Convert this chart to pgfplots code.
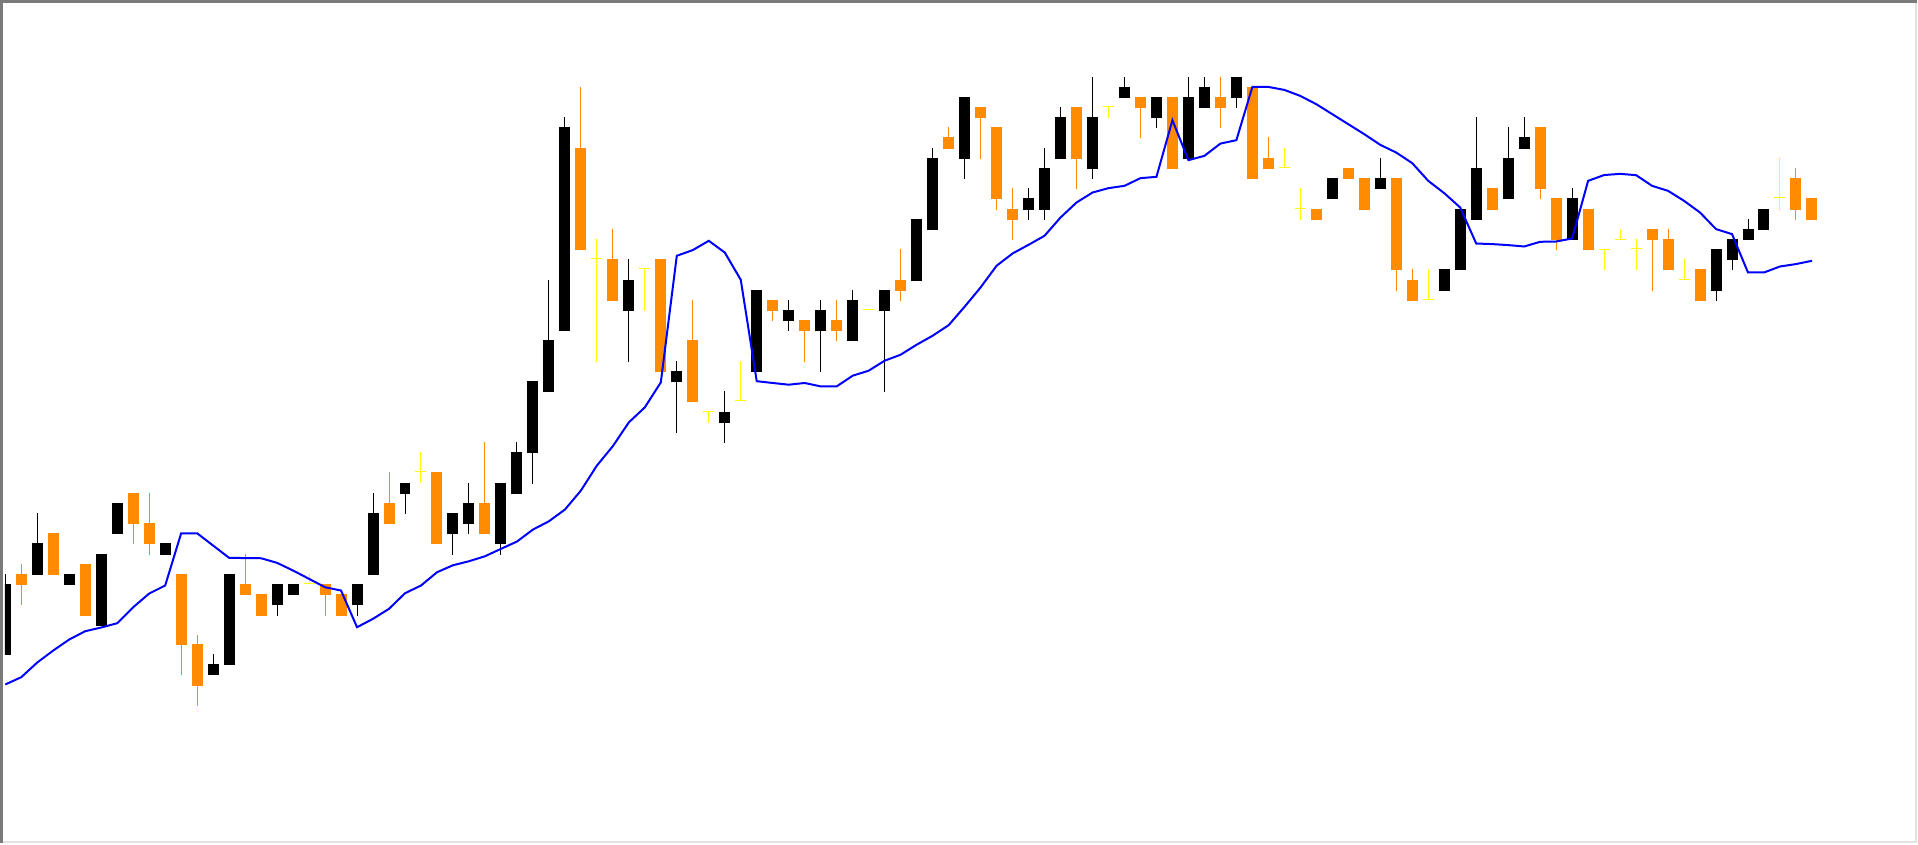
\documentclass[border=0pt]{standalone}
\usepackage{pgfplots}
\usepackage{pgfplotstable}
\pgfplotsset{compat=1.18}
\definecolor{cbull}{HTML}{000000}
\definecolor{cbear}{HTML}{FF8C00}
\definecolor{cdoji}{HTML}{FFFF00}
\definecolor{cma}{HTML}{0000FF}
\definecolor{cframe}{HTML}{7A7A7A}
\definecolor{cframelt}{HTML}{E2E2E2}

% candles: x = bar index, o h l c
\pgfplotstableread{
x o h l c
0 188 270 188 260
2 269 331 269 301
4 259 270 259 270
6 218 290 218 290
7 310 341 310 341
10 289 301 289 301
13 168 189 168 179
14 178 270 178 270
17 239 260 228 260
18 249 260 249 260
22 239 260 228 260
23 269 351 269 331
25 350 361 330 361
28 310 331 289 331
29 320 361 310 341
31 300 361 289 361
32 350 402 350 392
33 391 463 360 463
34 452 564 452 504
35 513 727 513 717
39 533 585 482 564
42 462 483 411 473
45 421 453 401 432
47 472 554 472 554
49 523 544 513 534
51 513 544 472 534
53 503 554 503 544
55 533 554 452 554
57 563 625 563 625
58 614 696 614 686
60 685 747 665 747
64 634 656 624 646
65 634 696 624 676
66 685 737 685 727
68 675 767 665 727
70 746 767 746 757
72 726 747 716 747
74 685 767 685 747
75 736 767 736 757
77 746 767 736 767
83 645 666 645 666
86 655 686 655 666
90 553 575 553 575
91 574 635 574 635
92 624 727 624 676
94 645 717 645 686
95 695 727 695 707
98 604 656 604 646
107 553 595 543 595
108 584 605 574 605
109 604 625 604 615
110 614 635 614 635
}\bull

\pgfplotstableread{
x o h l c
1 270 280 239 259
3 311 311 269 269
5 280 280 228 228
8 351 351 300 320
9 321 351 289 300
11 270 270 168 198
12 199 209 137 157
15 260 290 249 249
16 250 250 228 228
20 260 260 228 249
21 250 250 228 228
24 341 372 320 320
27 372 372 300 300
30 341 402 310 310
36 696 757 594 594
38 585 615 543 543
41 585 585 472 472
43 504 544 442 442
48 544 544 523 533
50 524 524 482 513
52 524 544 503 513
56 564 595 543 553
59 707 717 695 695
61 737 737 685 726
62 717 717 634 645
63 635 656 604 624
67 737 737 655 685
71 747 747 706 736
73 747 747 675 675
76 747 767 716 736
78 757 757 665 665
79 686 707 675 675
82 635 635 624 624
84 676 676 665 665
85 666 666 634 634
87 666 666 553 574
88 564 575 543 543
93 656 656 634 634
96 717 717 645 655
97 646 646 594 604
99 635 635 594 594
103 615 615 553 604
104 605 615 574 574
106 575 575 543 543
112 666 676 624 634
113 646 646 624 624
}\bear

\pgfplotstableread{
x o h l c
19 260 270 260 260
26 372 392 361 372
37 585 605 482 585
40 575 575 533 575
44 432 432 421 432
46 443 483 443 443
54 534 534 534 534
69 737 737 726 737
80 676 696 676 676
81 635 656 624 635
89 544 575 544 544
100 594 594 574 594
101 604 615 604 604
102 595 605 574 595
105 564 585 564 564
111 646 686 634 646
}\doji

\pgfplotstableread{
x ma
0 159
1 166.3
2 181
3 193
4 204
5 212.3
6 216
7 220.3
8 236.3
9 250
10 258
11 310.3
12 310.3
13 298
14 285.7
15 285.5
16 285.3
17 280.7
18 273
19 264.7
20 256.3
21 253
22 216.3
23 224.7
24 234.7
25 250.3
26 258
27 271.3
28 278.3
29 282.3
30 287.3
31 294.7
32 302
33 314
34 322.3
35 334
36 353
37 378
38 397.5
39 421.3
40 436.3
41 461.3
42 588
43 593.7
44 603
45 591.3
46 564
47 462.5
48 460.7
49 459
50 460.7
51 457.3
52 457.3
53 468
54 473
55 483
56 489
57 499
58 508
59 518.5
60 537
61 556.3
62 578
63 590.3
64 599
65 608
66 626.3
67 641.3
68 651.3
69 655.7
70 658
71 665.7
72 667
73 723.7
74 683.7
75 688
76 700.3
77 703.7
78 757
79 757
80 754
81 748
82 739.7
83 729.7
84 719.7
85 709.7
86 699
87 691.3
88 680.7
89 663
90 650.7
91 636.3
92 600.3
93 599.7
94 598.7
95 597.3
96 602
97 602.3
98 605.3
99 663
100 668.8
101 670
102 668.7
103 658
104 653
105 643
106 631.3
107 614.7
108 609.7
109 571.3
110 571.3
111 577.3
112 579.7
113 583
}\ma

\begin{document}
\begin{tikzpicture}
\begin{axis}[
  scale only axis,
  width=191.3mm, height=84.3mm,
  xmin=-0.019, xmax=119.54,
  ymin=0, ymax=843,
  ticks=none,
  axis line style={draw=none},
  clip=true,
]
% wicks
\addplot[draw=none, mark=none, forget plot,
  error bars/.cd, y dir=both, y explicit, error mark=none,
  error bar style={draw=cbull, line width=0.1mm}]
  table[x=x, y expr=(\thisrow{h}+\thisrow{l})/2, y error expr=(\thisrow{h}-\thisrow{l})/2] {\bull};
\addplot[draw=none, mark=none, forget plot,
  error bars/.cd, y dir=both, y explicit, error mark=none,
  error bar style={draw=cbear, line width=0.1mm}]
  table[x=x, y expr=(\thisrow{h}+\thisrow{l})/2, y error expr=(\thisrow{h}-\thisrow{l})/2] {\bear};
\addplot[draw=none, mark=none, forget plot,
  error bars/.cd, y dir=both, y explicit, error mark=none,
  error bar style={draw=cdoji, line width=0.1mm}]
  table[x=x, y expr=(\thisrow{h}+\thisrow{l})/2, y error expr=(\thisrow{h}-\thisrow{l})/2] {\doji};
% bodies
\addplot[draw=none, mark=none, forget plot,
  error bars/.cd, y dir=both, y explicit, error mark=none,
  error bar style={draw=cbull, line width=1.1mm}]
  table[x=x, y expr=(\thisrow{o}+\thisrow{c})/2, y error expr=abs(\thisrow{c}-\thisrow{o})/2] {\bull};
\addplot[draw=none, mark=none, forget plot,
  error bars/.cd, y dir=both, y explicit, error mark=none,
  error bar style={draw=cbear, line width=1.1mm}]
  table[x=x, y expr=(\thisrow{o}+\thisrow{c})/2, y error expr=abs(\thisrow{c}-\thisrow{o})/2] {\bear};
\addplot[only marks, mark=-, mark size=0.55mm, forget plot,
  mark options={draw=cdoji, line width=0.1mm}]
  table[x=x, y=o] {\doji};
% moving average
\addplot[cma, line width=0.2mm, mark=none] table[x=x, y=ma] {\ma};
\end{axis}
% frame
\draw[cframelt, line width=0.2mm] ([xshift=-0.35mm,yshift=0.12mm]current axis.south west) -- ([xshift=-0.05mm,yshift=0.12mm]current axis.south east) -- ([xshift=-0.05mm]current axis.north east);
\draw[cframe, line width=0.3mm] ([xshift=-0.35mm]current axis.south west) -- ([xshift=-0.35mm,yshift=-0.06mm]current axis.north west) -- ([yshift=-0.06mm]current axis.north east);
\end{tikzpicture}
\end{document}
